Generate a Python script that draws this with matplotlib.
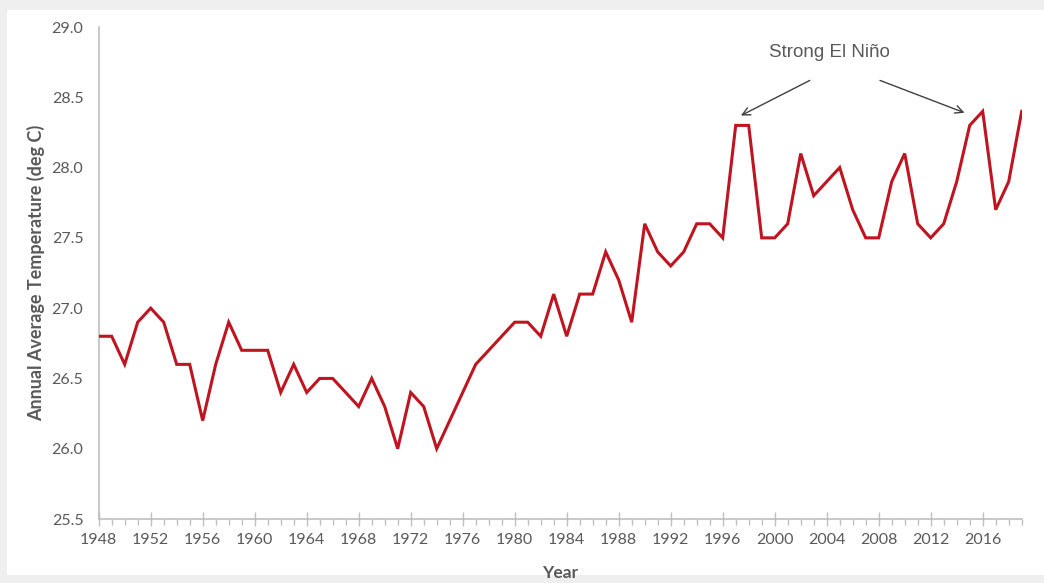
import matplotlib
matplotlib.use("Agg")
import matplotlib.pyplot as plt
from matplotlib.patches import Rectangle
from matplotlib.ticker import MultipleLocator, FormatStrFormatter

years = list(range(1948, 2020))
temps = [
    26.8, 26.8, 26.6, 26.9, 27.0, 26.9, 26.6, 26.6, 26.2, 26.6,   # 1948-1957
    26.9, 26.7, 26.7, 26.7, 26.4, 26.6, 26.4, 26.5, 26.5, 26.4,   # 1958-1967
    26.3, 26.5, 26.3, 26.0, 26.4, 26.3, 26.0, 26.2, 26.4, 26.6,   # 1968-1977
    26.7, 26.8, 26.9, 26.9, 26.8, 27.1, 26.8, 27.1, 27.1, 27.4,   # 1978-1987
    27.2, 26.9, 27.6, 27.4, 27.3, 27.4, 27.6, 27.6, 27.5, 28.3,   # 1988-1997
    28.3, 27.5, 27.5, 27.6, 28.1, 27.8, 27.9, 28.0, 27.7, 27.5,   # 1998-2007
    27.5, 27.9, 28.1, 27.6, 27.5, 27.6, 27.9, 28.3, 28.4, 27.7,   # 2008-2017
    27.9, 28.4,                                                   # 2018-2019
]
y_ticks = [25.5, 26.0, 26.5, 27.0, 27.5, 28.0, 28.5, 29.0]
annotation_text = "Strong El Niño"
annotation_targets = [(1997.4, 28.37), (2014.6, 28.39)]
annotation_tails = [(2002.7, 28.62), (2008.1, 28.62)]
annotation_pos = (2004.2, 28.82)

W, H = 1044, 583
fig = plt.figure(figsize=(W / 100, H / 100), dpi=100, facecolor="#efefef")
panel = Rectangle((7 / W, 8 / H), 1.0, 1 - 18 / H, transform=fig.transFigure,
                  facecolor="white", edgecolor="none", zorder=-10)
fig.patches.append(panel)

ax = fig.add_axes([98.7 / W, 1 - 519 / H, (1021.7 - 98.7) / W, (519 - 27) / H])
ax.set_zorder(5)
ax.set_facecolor("none")

ax.plot(years, temps, color="#be1520", lw=2.2, solid_joinstyle="miter", zorder=3)

ax.set_xlim(1948, 2019)
ax.set_ylim(25.5, 29.0)
ax.set_yticks(y_ticks)
ax.yaxis.set_major_formatter(FormatStrFormatter("%.1f"))
ax.xaxis.set_major_locator(MultipleLocator(4))
ax.xaxis.set_minor_locator(MultipleLocator(1))

grey = "#595959"
ax.tick_params(axis="y", length=0, pad=11, colors=grey, labelsize=11.5)
ax.tick_params(axis="x", which="major", direction="inout", length=10, width=1,
               color="#bfbfbf", labelcolor=grey, pad=5, labelsize=11.5)
ax.tick_params(axis="x", which="minor", direction="out", length=4, width=1, color="#bfbfbf")

for s in ["top", "right"]:
    ax.spines[s].set_visible(False)
for s in ["left", "bottom"]:
    ax.spines[s].set_color("#bfbfbf")
    ax.spines[s].set_linewidth(1.2)

ax.set_ylabel("Annual Average Temperature (deg C)", fontsize=13, fontweight="bold",
              color=grey, family=["Lato", "DejaVu Sans"], labelpad=5)
ax.set_xlabel("Year", fontsize=12.5, fontweight="bold", color=grey,
              family=["Lato", "DejaVu Sans"], labelpad=13)

ax.text(annotation_pos[0], annotation_pos[1], annotation_text, ha="center", va="center",
        fontsize=13.5, color=grey, family=["Liberation Sans", "DejaVu Sans"])
for tgt, tail in zip(annotation_targets, annotation_tails):
    ax.annotate("", xy=tgt, xytext=tail,
                arrowprops=dict(arrowstyle="->", color="#404040", lw=1.0,
                                mutation_scale=14, shrinkA=0, shrinkB=0))

for lab in ax.get_xticklabels() + ax.get_yticklabels():
    lab.set_fontfamily(["Lato", "DejaVu Sans"])

fig.savefig("out.png", dpi=100, facecolor=fig.get_facecolor())
